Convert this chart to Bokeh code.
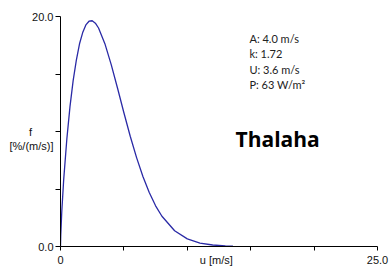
from bokeh.plotting import figure
from bokeh.models import Range1d, FixedTicker, Label
from bokeh.embed import file_html
from bokeh.resources import INLINE

# Weibull frequency curve: wind speed u [m/s] vs f [%/(m/s)]
u_vals = [0, 0.02, 0.1, 0.25, 0.5, 0.75, 1.0, 1.25, 1.5, 1.75, 2.0, 2.25, 2.5, 2.75,
          3.0, 3.5, 4.0, 4.5, 5.0, 5.5, 6.0, 6.5, 7.0, 7.5, 8.0, 9.0, 10.0, 11.0,
          12.0, 13.0, 13.6]
f_vals = [0, 0.95, 3.02, 5.79, 9.35, 12.18, 14.45, 16.2, 17.63, 18.6, 19.27, 19.59,
          19.63, 19.42, 19.0, 17.64, 15.82, 13.76, 11.63, 9.59, 7.73, 6.09, 4.69,
          3.54, 2.63, 1.37, 0.66, 0.30, 0.13, 0.05, 0.03]

NB = "\u00a0"
x_ticks = [0, 5, 10, 15, 20, 25]
x_tick_labels = {0: "0", 10: NB * 19 + "u [m/s]", 25: "25.0"}
y_ticks = [0, 5, 10, 15, 20]
y_tick_labels = {0: "0.0", 10: "\nf" + NB * 7 + "\n[%/(m/s)]", 20: "20.0"}
info_lines = ["A: 4.0 m/s", "k: 1.72", "U: 3.6 m/s", "P: 63 W/m\u00b2"]
site_name = "Thalaha"

p = figure(frame_width=317, frame_height=230, output_backend="svg",
           toolbar_location=None, x_range=Range1d(0, 25), y_range=Range1d(0, 20),
           min_border_left=60, min_border_top=16, min_border_right=12,
           min_border_bottom=26)
p.outline_line_color = None
p.grid.visible = False
p.background_fill_color = "white"
p.border_fill_color = "white"

p.line(u_vals, f_vals, line_color="#2a2aa6", line_width=1.3)

xa = p.xaxis[0]
xa.ticker = FixedTicker(ticks=x_ticks)
xa.major_label_overrides = {t: x_tick_labels.get(t, "") for t in x_ticks}
xa.major_label_text_font = "Liberation Sans"
xa.major_label_text_font_size = "11px"
xa.major_label_text_color = "#111111"
xa.major_label_standoff = 3
xa.major_tick_out = 4
xa.major_tick_in = 0
xa.minor_tick_line_color = None
xa.axis_line_color = "#000000"
xa.major_tick_line_color = "#000000"

ya = p.yaxis[0]
ya.ticker = FixedTicker(ticks=y_ticks)
ya.major_label_overrides = {t: y_tick_labels.get(t, "") for t in y_ticks}
ya.major_label_text_font = "Liberation Sans"
ya.major_label_text_font_size = "11px"
ya.major_label_text_color = "#111111"
ya.major_label_standoff = 2
ya.major_tick_out = 5
ya.major_tick_in = 0
ya.minor_tick_line_color = None
ya.axis_line_color = "#000000"
ya.major_tick_line_color = "#000000"

def lab(x, y, t, size="11px", font="Lato", style="normal", color="#222222"):
    p.add_layout(Label(x=x, y=y, text=t, text_font=font, text_font_size=size,
                       text_align="left", text_baseline="middle", text_font_style=style,
                       text_color=color))

info_y = [18.09, 16.78, 15.39, 14.09]
for t, yy in zip(info_lines, info_y):
    lab(14.9, yy, t)

lab(13.8, 9.39, site_name, size="21px", font="Open Sans", style="bold", color="#000000")

open("out.html", "w").write(file_html(p, INLINE))
